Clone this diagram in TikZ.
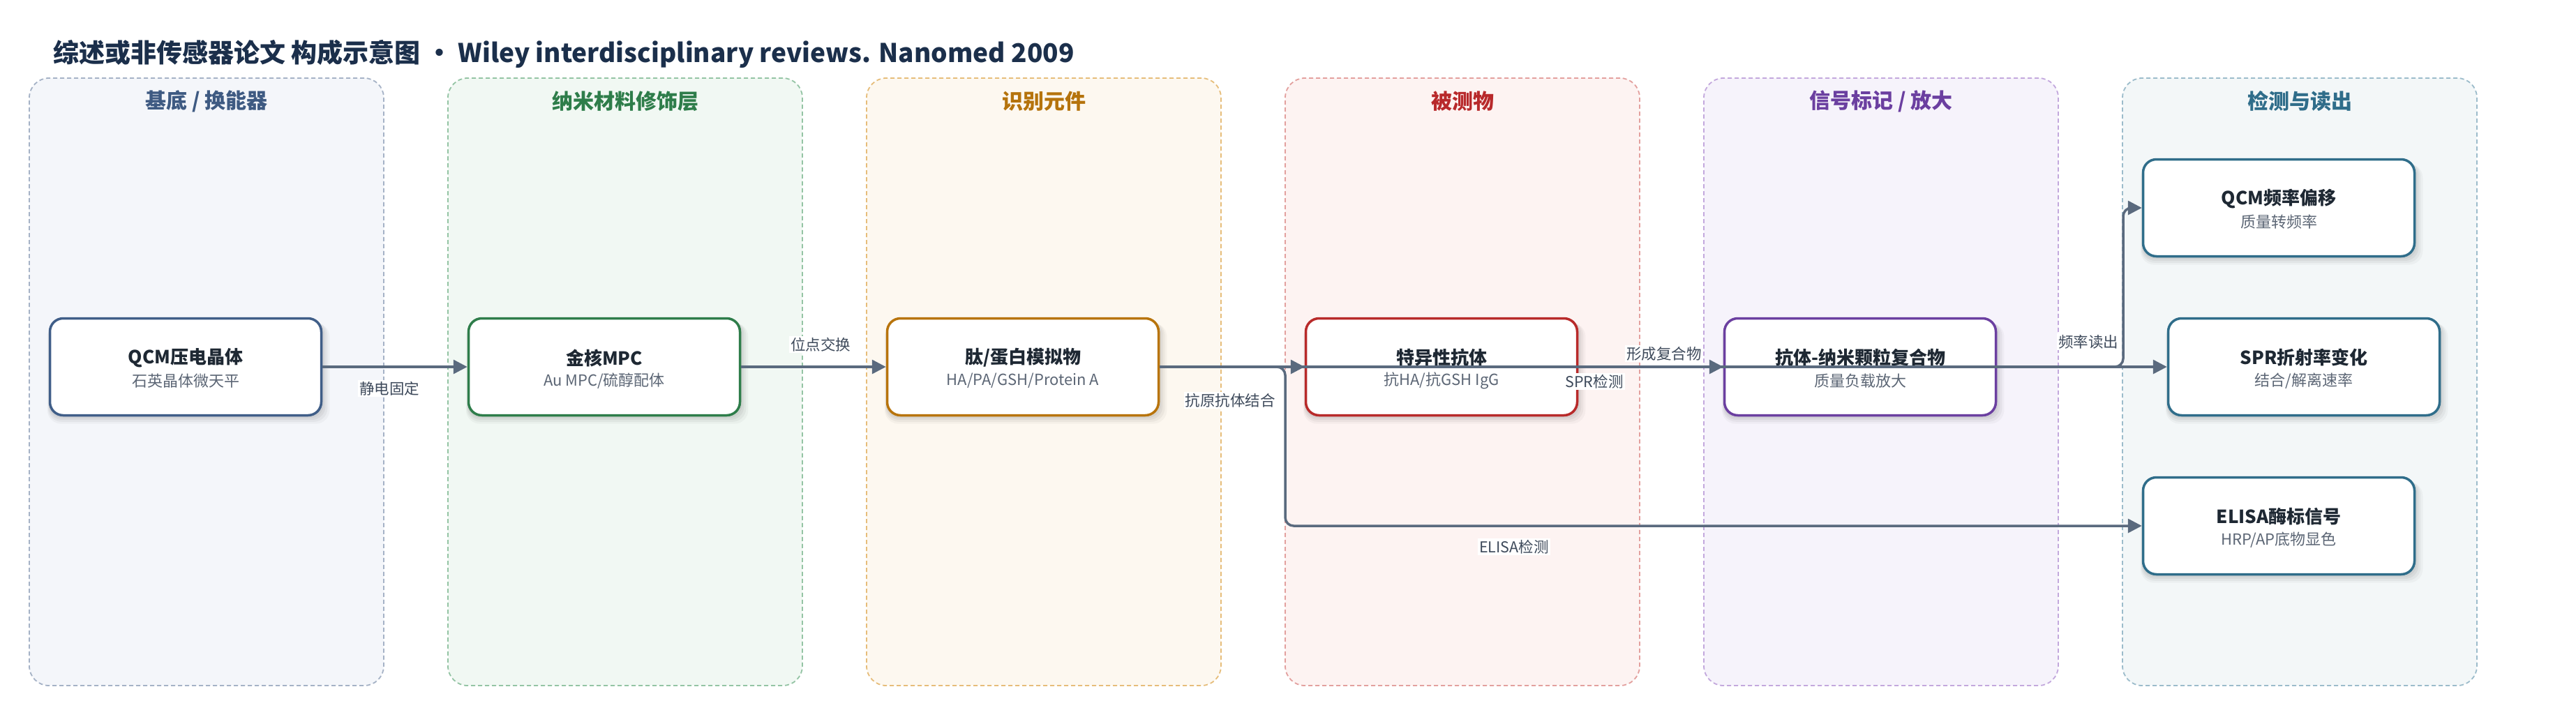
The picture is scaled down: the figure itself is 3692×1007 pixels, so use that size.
\documentclass[tikz,border=0pt]{standalone}
\usepackage{fontspec}
\setmainfont{Noto Sans CJK SC}
\usetikzlibrary{arrows.meta,shadows,calc}
\definecolor{titlec}{HTML}{1B2F4B}
\definecolor{edgec}{HTML}{5A6A7E}
\definecolor{labc}{HTML}{3E4A5B}
\definecolor{ttlc}{HTML}{1E2833}
\definecolor{subc}{HTML}{5C6675}
% lane 1
\definecolor{aH}{HTML}{3E5A82}\definecolor{aF}{HTML}{F4F6FA}\definecolor{aB}{HTML}{A5B2C6}\definecolor{aN}{HTML}{405E88}
% lane 2
\definecolor{bH}{HTML}{2E7D4A}\definecolor{bF}{HTML}{F1F8F3}\definecolor{bB}{HTML}{94C4A4}\definecolor{bN}{HTML}{2E7D4A}
% lane 3
\definecolor{cH}{HTML}{B5730C}\definecolor{cF}{HTML}{FDF8F0}\definecolor{cB}{HTML}{E6BD7A}\definecolor{cN}{HTML}{B8740C}
% lane 4
\definecolor{dH}{HTML}{B8292B}\definecolor{dF}{HTML}{FDF3F2}\definecolor{dB}{HTML}{E3A09E}\definecolor{dN}{HTML}{B82A2A}
% lane 5
\definecolor{eH}{HTML}{6B3FA0}\definecolor{eF}{HTML}{F6F3FB}\definecolor{eB}{HTML}{C3A8DD}\definecolor{eN}{HTML}{6B3FA0}
% lane 6
\definecolor{fH}{HTML}{2F6D8A}\definecolor{fF}{HTML}{F3F7F8}\definecolor{fB}{HTML}{9CBCCB}\definecolor{fN}{HTML}{2F6D8A}

\newcommand{\mkbox}[6]{%
  \node[nbox, draw=#4] (#1) at (#2,#3) {};
  \node[ntitle] (#1t) at ($(#1.center)+(0,-13)$) {#5};
  \node[nsub] (#1s) at ($(#1.center)+(0,20)$) {#6};
}
\newcommand{\mklane}[6]{%
  \node[lane, draw=#3, fill=#4] (#1) at (#2,547.5) {};
  \node[lhead, text=#5] (#1h) at (#2,145) {#6};
}

\begin{document}
\begin{tikzpicture}[x=1pt,y=-1pt,
  lane/.style={rounded corners=28pt, dash pattern=on 6pt off 4pt, line width=1.8pt,
    minimum width=508pt, minimum height=871pt, inner sep=0pt},
  lhead/.style={font=\fontsize{30}{30}\selectfont\bfseries, inner sep=0pt},
  nbox/.style={rounded corners=19pt, line width=3.5pt, fill=white,
    minimum width=389pt, minimum height=139pt, inner sep=0pt,
    general shadow={fill=black, opacity=0.045, shadow xshift=1pt, shadow yshift=-3pt, shadow scale=1.012},
    general shadow={fill=black, opacity=0.045, shadow xshift=2pt, shadow yshift=-5pt, shadow scale=1.02},
    general shadow={fill=black, opacity=0.04, shadow xshift=3pt, shadow yshift=-7pt, shadow scale=1.03},
    general shadow={fill=black, opacity=0.03, shadow xshift=4pt, shadow yshift=-9pt, shadow scale=1.04}},
  ntitle/.style={font=\fontsize{26}{26}\selectfont\bfseries, text=ttlc, inner sep=0pt},
  nsub/.style={font=\fontsize{22}{22}\selectfont, text=subc, inner sep=0pt},
  edge/.style={draw=edgec, line width=3.5pt, rounded corners=12pt,
    -{Triangle[length=20pt,width=20pt]}},
  elab/.style={fill=white, text=labc, font=\fontsize{21.5}{21.5}\selectfont, inner sep=2pt}
]
\useasboundingbox[fill=white] (0,0) rectangle (3692,1007);

\node[anchor=west, font=\fontsize{37}{37}\selectfont\bfseries, text=titlec, inner sep=0pt]
  (title) at (76,77) {综述或非传感器论文 构成示意图 • Wiley interdisciplinary reviews. Nanomed 2009};

\mklane{L1}{296}{aB}{aF}{aH}{基底 / 换能器}
\mklane{L2}{896}{bB}{bF}{bH}{纳米材料修饰层}
\mklane{L3}{1496}{cB}{cF}{cH}{识别元件}
\mklane{L4}{2096}{dB}{dF}{dH}{被测物}
\mklane{L5}{2696}{eB}{eF}{eH}{信号标记 / 放大}
\mklane{L6}{3296}{fB}{fF}{fH}{检测与读出}

\mkbox{n1}{266}{526}{aN}{QCM压电晶体}{石英晶体微天平}
\mkbox{n2}{866}{526}{bN}{金核MPC}{Au MPC/硫醇配体}
\mkbox{n3}{1466}{526}{cN}{肽/蛋白模拟物}{HA/PA/GSH/Protein A}
\mkbox{n4}{2066}{526}{dN}{特异性抗体}{抗HA/抗GSH IgG}
\mkbox{n5}{2666}{526}{eN}{抗体-纳米颗粒复合物}{质量负载放大}
\mkbox{n6}{3266}{298}{fN}{QCM频率偏移}{质量转频率}
\mkbox{n7}{3302}{526}{fN}{SPR折射率变化}{结合/解离速率}
\mkbox{n8}{3266}{754}{fN}{ELISA酶标信号}{HRP/AP底物显色}

\coordinate (b1) at (1842,526);
\coordinate (b2) at (3043,526);

\draw[edge] (n1.east) -- (n2.west);
\draw[edge] (n2.east) -- (n3.west);
\draw[edge] (n3.east) -- (n4.west);
\draw[edge] (n4.east) -- (n5.west);
\draw[edge] (n3.east) -- (n7.west);
\draw[edge] (n3.east) -- (b1) |- (n8.west);
\draw[edge] (n5.east) -- (b2) |- (n6.west);

\node[elab] (e1) at (558,557) {静电固定};
\node[elab] (e2) at (1176,494) {位点交换};
\node[elab] (e3) at (1763,574) {抗原抗体结合};
\node[elab] (e4) at (2385,507) {形成复合物};
\node[elab] (e5) at (2993,490) {频率读出};
\node[elab] (e6) at (2285,547) {SPR检测};
\node[elab] (e7) at (2170,784) {ELISA检测};
\end{tikzpicture}
\end{document}
